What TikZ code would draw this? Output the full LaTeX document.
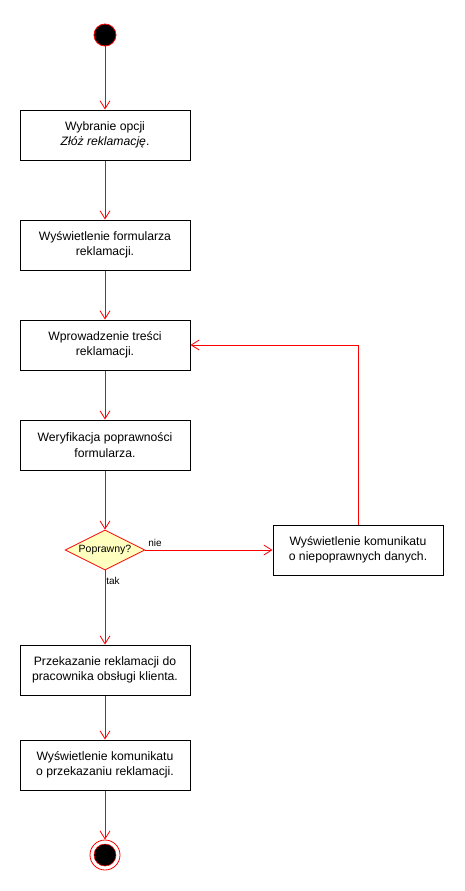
\documentclass[tikz,border=0pt]{standalone}
\usepackage{fontspec}
\setmainfont{Liberation Sans}
\usetikzlibrary{arrows.meta,shapes.geometric}
\definecolor{dfill}{HTML}{FFFFC0}
\begin{document}
\begin{tikzpicture}[x=1pt,y=-1pt,
  act/.style={draw=black, line width=1pt, minimum width=170pt, minimum height=50pt, align=center, inner sep=0pt, font=\fontsize{12.2}{15.5}\selectfont},
  flow/.style={draw=red, line width=0.8pt, -{Straight Barb[length=8pt,width=10pt,line width=0.8pt]}},
  lbl/.style={font=\fontsize{10}{12}\selectfont, inner sep=0pt},
]
\useasboundingbox (0,0) rectangle (464,891);
\node[circle, fill=black, draw=red, line width=0.8pt, minimum size=22pt, inner sep=0pt] (start) at (105,35) {};
\node[act] (b1) at (105,135) {Wybranie opcji\\\textit{Złóż reklamację}.};
\node[act] (b2) at (105,245) {Wyświetlenie formularza\\reklamacji.};
\node[act] (b3) at (105,345) {Wprowadzenie treści\\reklamacji.};
\node[act] (b4) at (105,445) {Weryfikacja poprawności\\formularza.};
\node[diamond, draw=red, fill=dfill, line width=0.8pt, minimum width=80pt, minimum height=40pt, inner sep=0pt,
      label={[lbl, font=\fontsize{10.5}{12}\selectfont]center:Poprawny?}] (dec) at (105,550) {};
\node[act] (err) at (358,550) {Wyświetlenie komunikatu\\o niepoprawnych danych.};
\node[act] (b5) at (105,670) {Przekazanie reklamacji do\\pracownika obsługi klienta.};
\node[act] (b6) at (105,765) {Wyświetlenie komunikatu\\o przekazaniu reklamacji.};
\node[circle, draw=red, fill=white, line width=0.8pt, minimum size=30pt, inner sep=0pt] (end) at (105,855) {};
\node[circle, fill=black, draw=red, line width=0.5pt, minimum size=22pt, inner sep=0pt] (endin) at (105,855) {};
\draw[flow] (start) -- (b1);
\draw[flow] (b1) -- (b2);
\draw[flow] (b2) -- (b3);
\draw[flow] (b3) -- (b4);
\draw[flow] (b4) -- (dec.north);
\draw[flow] (dec.east) -- node[lbl, pos=0.02, anchor=south west, yshift=3pt] (nie) {nie} (err.west);
\draw[flow] (dec.south) -- node[lbl, pos=0.14, anchor=west, xshift=1pt] (tak) {tak} (b5.north);
\draw[flow] (err.north) |- (b3.east);
\draw[flow] (b5) -- (b6);
\draw[flow] (b6) -- (end);
\end{tikzpicture}
\end{document}
